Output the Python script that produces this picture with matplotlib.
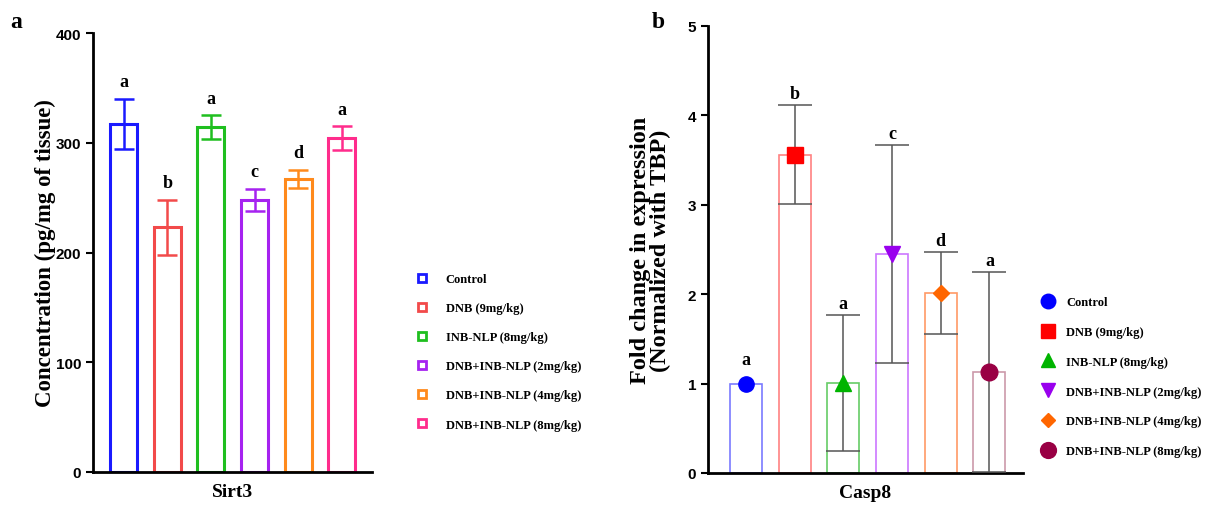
import numpy as np
import matplotlib
matplotlib.use('Agg')
import matplotlib.pyplot as plt
from matplotlib.lines import Line2D

groups = ['Control', 'DNB (9mg/kg)', 'INB-NLP (8mg/kg)', 'DNB+INB-NLP (2mg/kg)',
          'DNB+INB-NLP (4mg/kg)', 'DNB+INB-NLP (8mg/kg)']

# panel a: Sirt3 concentration
sirt3_mean = [317, 223, 314, 248, 267, 304]
sirt3_err = [23, 25, 11, 10, 8, 11]
sirt3_letters = ['a', 'b', 'a', 'c', 'd', 'a']

# panel b: Casp8 fold change
casp8_mean = [0.99, 3.56, 1.01, 2.45, 2.01, 1.13]
casp8_err = [0.0, 0.55, 0.76, 1.22, 0.46, 1.12]
casp8_letters = ['a', 'b', 'a', 'c', 'd', 'a']

colors_a = ['#1a1aff', '#f24a4a', '#1fbf1f', '#a623f0', '#ff8a1c', '#ff2c8c']
edge_b = ['#7a7aff', '#ff8282', '#66cc66', '#cc77ff', '#ff9a66', '#cc99aa']
marker_b = ['#0000ff', '#ff0000', '#00b400', '#9900ee', '#ff6600', '#990044']
shapes_b = ['o', 's', '^', 'v', 'D', 'o']
sizes_b = [11, 11, 11, 11, 8, 12]

serif = ['Liberation Serif', 'DejaVu Serif']
sans = ['Liberation Sans', 'DejaVu Sans']

fig = plt.figure(figsize=(12.11, 5.06), dpi=100)

def style_axes(ax):
    for s in ['top', 'right']:
        ax.spines[s].set_visible(False)
    for s in ['left', 'bottom']:
        ax.spines[s].set_linewidth(2)
    ax.tick_params(axis='y', width=1.5, length=5, direction='out')
    ax.tick_params(axis='x', length=0)
    ax.set_xticks([])
    for lab in ax.get_yticklabels():
        lab.set_fontfamily(sans)
        lab.set_fontweight('bold')
        lab.set_fontsize(11)

# ---- panel a
ax1 = fig.add_axes([93 / 1211, 1 - 473 / 506, (372 - 93) / 1211, (473 - 34) / 506])
x = np.arange(len(groups))
ax1.bar(x, sirt3_mean, width=0.62, facecolor='white', edgecolor=colors_a, linewidth=2.2)
for i in range(len(groups)):
    ax1.errorbar(x[i], sirt3_mean[i], yerr=sirt3_err[i], color=colors_a[i],
                 capsize=7, elinewidth=1.8, capthick=1.8, fmt='none')
    ax1.text(x[i], sirt3_mean[i] + sirt3_err[i] + 8, sirt3_letters[i], ha='center',
             va='bottom', fontfamily=serif, fontweight='bold', fontsize=13)
ax1.set_xlim(-0.70, 5.69)
ax1.set_ylim(0, 400)
ax1.set_yticks([0, 100, 200, 300, 400])
style_axes(ax1)
ax1.set_ylabel('Concentration (pg/mg of tissue)', fontfamily=serif, fontweight='bold',
               fontsize=16.5, labelpad=0)
ax1.set_xlabel('Sirt3', fontfamily=serif, fontweight='bold', fontsize=14, labelpad=8)
fig.text(10 / 1211, 1 - 22 / 506, 'a', fontfamily=serif, fontweight='bold', fontsize=17,
         va='center')

handles_a = [Line2D([], [], linestyle='none', marker='s', markersize=5.5,
                    markerfacecolor='white', markeredgecolor=c, markeredgewidth=2)
             for c in colors_a]
fig.legend(handles_a, groups, loc='upper left', bbox_to_anchor=(405 / 1211, 1 - 269 / 506),
           frameon=False, prop={'family': serif, 'weight': 'bold', 'size': 9},
           labelspacing=1.37, handletextpad=0.85, borderaxespad=0)

# ---- panel b
ax2 = fig.add_axes([708 / 1211, 1 - 474 / 506, (1023 - 708) / 1211, (474 - 26.7) / 506])
ax2.bar(x, casp8_mean, width=0.66, facecolor='white', edgecolor=edge_b, linewidth=1.2)
for i in range(len(groups)):
    if casp8_err[i] > 0:
        ax2.errorbar(x[i], casp8_mean[i], yerr=casp8_err[i], color='#555555',
                     capsize=12, elinewidth=1.1, capthick=1.1, fmt='none', zorder=3)
    ax2.plot(x[i], casp8_mean[i], marker=shapes_b[i], color=marker_b[i],
             markersize=sizes_b[i], linestyle='none', zorder=4)
    top = casp8_mean[i] + casp8_err[i]
    off = 0.13 if casp8_err[i] > 0 else 0.28
    ax2.text(x[i], top + off, casp8_letters[i], ha='center', va='center',
             fontfamily=serif, fontweight='bold', fontsize=13)
ax2.set_xlim(-0.78, 5.69)
ax2.set_ylim(0, 5)
ax2.set_yticks([0, 1, 2, 3, 4, 5])
style_axes(ax2)
ax2.set_ylabel('Fold change in expression\n(Normalized with TBP)', fontfamily=serif,
               fontweight='bold', fontsize=17.5, labelpad=12, linespacing=0.95)
ax2.set_xlabel('Casp8', fontfamily=serif, fontweight='bold', fontsize=14, labelpad=8)
fig.text(652 / 1211, 1 - 22 / 506, 'b', fontfamily=serif, fontweight='bold', fontsize=17,
         va='center')

handles_b = [Line2D([], [], linestyle='none', marker=shapes_b[i], markersize=sizes_b[i] * 0.95,
                    color=marker_b[i]) for i in range(len(groups))]
fig.legend(handles_b, groups, loc='upper left', bbox_to_anchor=(1030 / 1211, 1 - 292 / 506),
           frameon=False, prop={'family': serif, 'weight': 'bold', 'size': 9},
           labelspacing=1.43, handletextpad=0.5, borderaxespad=0)

fig.savefig('out.png', dpi=100)
